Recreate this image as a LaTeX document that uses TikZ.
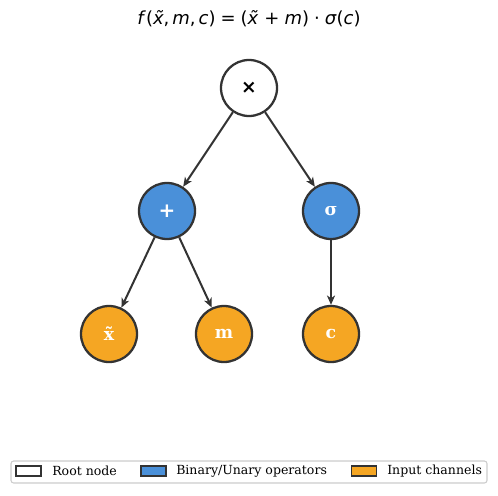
\documentclass[tikz,border=0pt]{standalone}
\usepackage{fontspec}
\setmainfont{DejaVu Serif}
\newfontfamily\djsans{DejaVu Sans}
\newfontfamily\djserifb{DejaVu Serif}[BoldFont={DejaVu Serif Bold}]
\usetikzlibrary{arrows.meta}
\definecolor{opblue}{HTML}{4A90D9}
\definecolor{inorange}{HTML}{F5A623}
\definecolor{edgegray}{HTML}{333333}
\definecolor{legframe}{HTML}{CCCCCC}
\begin{document}
\begin{tikzpicture}[x=0.75pt,y=-0.75pt,
  treenode/.style={circle,draw=edgegray,line width=1.7pt,minimum size=42pt,inner sep=0pt,font=\djserifb\bfseries\fontsize{13}{14}\selectfont,text=white},
  rootnode/.style={treenode,fill=white,text=black},
  opnode/.style={treenode,fill=opblue},
  innode/.style={treenode,fill=inorange},
  link/.style={draw=edgegray,line width=1.5pt,-{Stealth[length=7pt,width=6pt,inset=2pt]}},
  legpatch/.style={draw=edgegray,line width=1.2pt,minimum width=19pt,minimum height=7.5pt,inner sep=0pt},
  legtext/.style={anchor=west,font=\fontsize{9.4}{11}\selectfont,inner sep=0pt}]
\useasboundingbox (0,0) rectangle (498,495);
\node (title) at (249,19) {\djsans\fontsize{13.5}{15}\selectfont\textit{f}(\textit{\~x},\,\textit{m},\,\textit{c})\;=\;(\textit{\~x}\;+\;\textit{m})\;·\;\textit{σ}(\textit{c})};
\node[rootnode] (root) at (249,88) {\djsans\bfseries\fontsize{14}{16}\selectfont ×};
\node[opnode] (plus) at (167,211) {\djsans\bfseries\fontsize{15}{16}\selectfont +};
\node[opnode] (sig) at (331,211) {σ};
\node[innode] (x) at (109,334) {x̃};
\node[innode] (m) at (224,334) {m};
\node[innode] (c) at (331,334) {c};
\draw[link] (root) -- (plus);
\draw[link] (root) -- (sig);
\draw[link] (plus) -- (x);
\draw[link] (plus) -- (m);
\draw[link] (sig) -- (c);
\node[draw=legframe,line width=0.8pt,rounded corners=2pt,fill=white,minimum width=357pt,minimum height=16.5pt,inner sep=0pt] (legend) at (249,472) {};
\node[legpatch,fill=white] (p1) at (28.5,471) {};
\node[legtext] (t1) at (52,471) {Root node};
\node[legpatch,fill=opblue] (p2) at (153.5,471) {};
\node[legtext] (t2) at (176,471) {Binary/Unary operators};
\node[legpatch,fill=inorange] (p3) at (364,471) {};
\node[legtext] (t3) at (387,471) {Input channels};
\end{tikzpicture}
\end{document}
